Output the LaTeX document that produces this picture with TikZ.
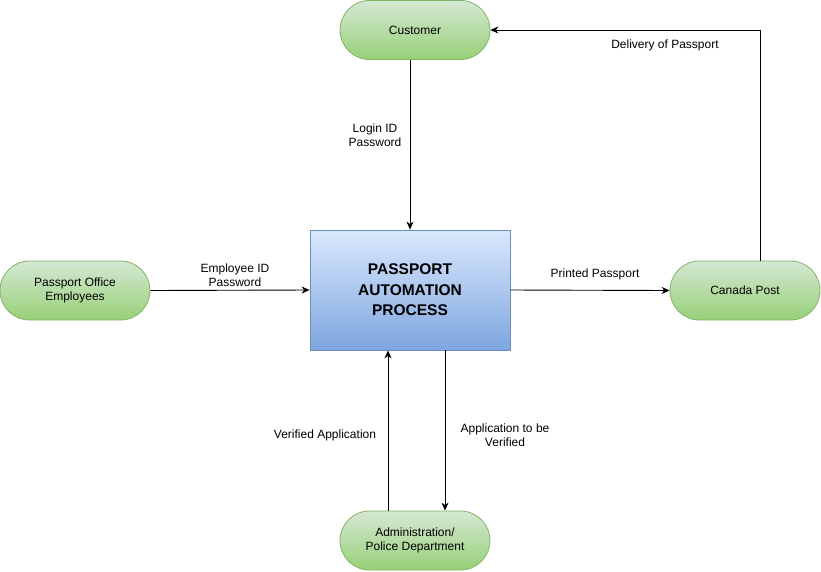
\documentclass[tikz,border=0pt]{standalone}
\usepackage{fontspec}
\setmainfont{Liberation Sans}
\usetikzlibrary{arrows.meta}
\definecolor{gfill}{HTML}{D5E8D4}
\definecolor{gdark}{HTML}{97D077}
\definecolor{gline}{HTML}{82B366}
\definecolor{bfill}{HTML}{DAE8FC}
\definecolor{bdark}{HTML}{7EA6E0}
\definecolor{bline}{HTML}{6C8EBF}
\tikzset{
  entity/.style={draw=gline, line width=0.8pt, top color=gfill, bottom color=gdark, rounded corners=29.5pt,
    minimum width=150pt, minimum height=59pt, align=center, font=\fontsize{12}{14}\selectfont},
  process/.style={draw=bline, line width=0.8pt, top color=bfill, bottom color=bdark,
    minimum width=200pt, minimum height=120pt, align=center,
    font=\fontsize{15.5}{20.5}\selectfont\bfseries},
  flow/.style={-{Stealth[length=8pt,width=7pt,inset=2.5pt]}, line width=0.9pt, black},
  lbl/.style={align=center, font=\fontsize{12}{14}\selectfont}
}
\begin{document}
\begin{tikzpicture}[x=1pt,y=-1pt]
    \useasboundingbox (0,0) rectangle (821,571);
    \node[process] (proc) at (410,290) {PASSPORT\\AUTOMATION\\PROCESS};
    \node[entity] (customer) at (415,30) {Customer};
    \node[entity] (staff) at (75,290.5) {Passport Office\\Employees};
    \node[entity] (post) at (745,290.5) {Canada Post};
    \node[entity] (admin) at (415,540.5) {Administration/\\Police Department};
    % flows
    \draw[flow] (customer.south -| proc.north) -- (proc.north);
    \node[lbl] (login) at (375,135) {Login ID\\Password};
    \draw[flow] (staff.east) -- (proc.west);
    \node[lbl] (empid) at (235,275) {Employee ID\\Password};
    \draw[flow] (proc.east) -- (post.west);
    \node[lbl] (printed) at (595,274) {Printed Passport};
    \draw[flow] ([xshift=15pt]post.north) |- (customer.east);
    \node[lbl] (delivery) at (665,45) {Delivery of Passport};
    \draw[flow] ([xshift=-27pt]admin.north) -- ([xshift=-27pt]admin.north |- proc.south);
    \node[lbl] (verified) at (325,435) {Verified Application};
    \draw[flow] ([xshift=30pt]admin.north |- proc.south) -- ([xshift=30pt]admin.north);
    \node[lbl] (toverify) at (505,435) {Application to be\\Verified};
\end{tikzpicture}
\end{document}
